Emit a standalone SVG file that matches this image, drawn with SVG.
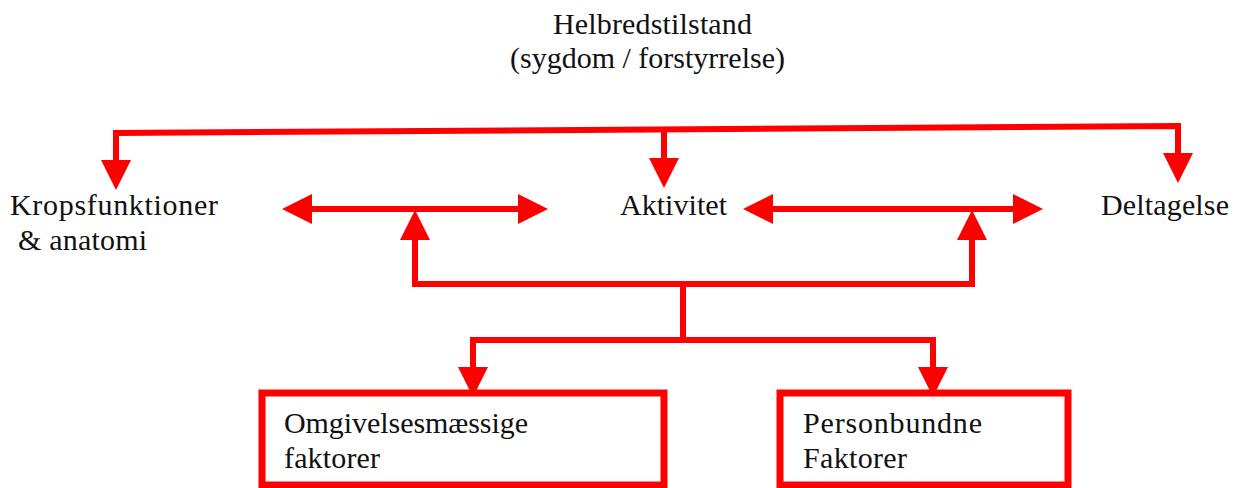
<svg xmlns="http://www.w3.org/2000/svg" width="1234" height="488" viewBox="0 0 1234 488">
<style>
text{font-family:"Liberation Serif","Times New Roman",serif;font-size:30px;fill:#111;}
.c{fill:none;stroke:#ff0000;stroke-width:6;stroke-linejoin:miter;marker-end:url(#ah);}
.d{marker-start:url(#ah);}
.box{fill:#fff;stroke:#ff0000;stroke-width:7;}
</style>
<defs>
<marker id="ah" markerUnits="userSpaceOnUse" markerWidth="30" markerHeight="30" viewBox="0 0 30 30" refX="0" refY="15" orient="auto-start-reverse">
<path d="M0,0 L30,15 L0,30 Z" fill="#ff0000"/>
</marker>
</defs>
<g id="connectors">
<path class="c d" d="M116,160 L116,133 L1178,126 L1178,153"/>
<path class="c" d="M664,130 L664,158"/>
<path class="c d" d="M312,209 L518,209"/>
<path class="c d" d="M773,209 L1013,209"/>
<path class="c d" d="M415,240 L415,284 L972,284 L972,240"/>
<path class="c" style="marker-end:none" d="M683,284 L683,340"/>
<path class="c d" d="M473,367 L473,340 L933,340 L933,367"/>
</g>
<g id="helbred">
<text x="553" y="34" textLength="199" lengthAdjust="spacing">Helbredstilstand</text>
<text x="510" y="68" textLength="275" lengthAdjust="spacing">(sygdom / forstyrrelse)</text>
</g>
<g id="krop">
<text x="10" y="215" textLength="208" lengthAdjust="spacing">Kropsfunktioner</text>
<text x="18" y="250" textLength="129" lengthAdjust="spacing">&amp; anatomi</text>
</g>
<g id="aktivitet">
<text x="620" y="215" textLength="107" lengthAdjust="spacing">Aktivitet</text>
</g>
<g id="deltagelse">
<text x="1101" y="215" textLength="128" lengthAdjust="spacing">Deltagelse</text>
</g>
<g id="omgivelse">
<rect class="box" x="262" y="393" width="402" height="92"/>
<text x="284" y="433" textLength="244" lengthAdjust="spacing">Omgivelsesmæssige</text>
<text x="284" y="468" textLength="96" lengthAdjust="spacing">faktorer</text>
</g>
<g id="person">
<rect class="box" x="780" y="393" width="288" height="92"/>
<text x="803" y="433" textLength="179" lengthAdjust="spacing">Personbundne</text>
<text x="803" y="468" textLength="104" lengthAdjust="spacing">Faktorer</text>
</g>
</svg>
